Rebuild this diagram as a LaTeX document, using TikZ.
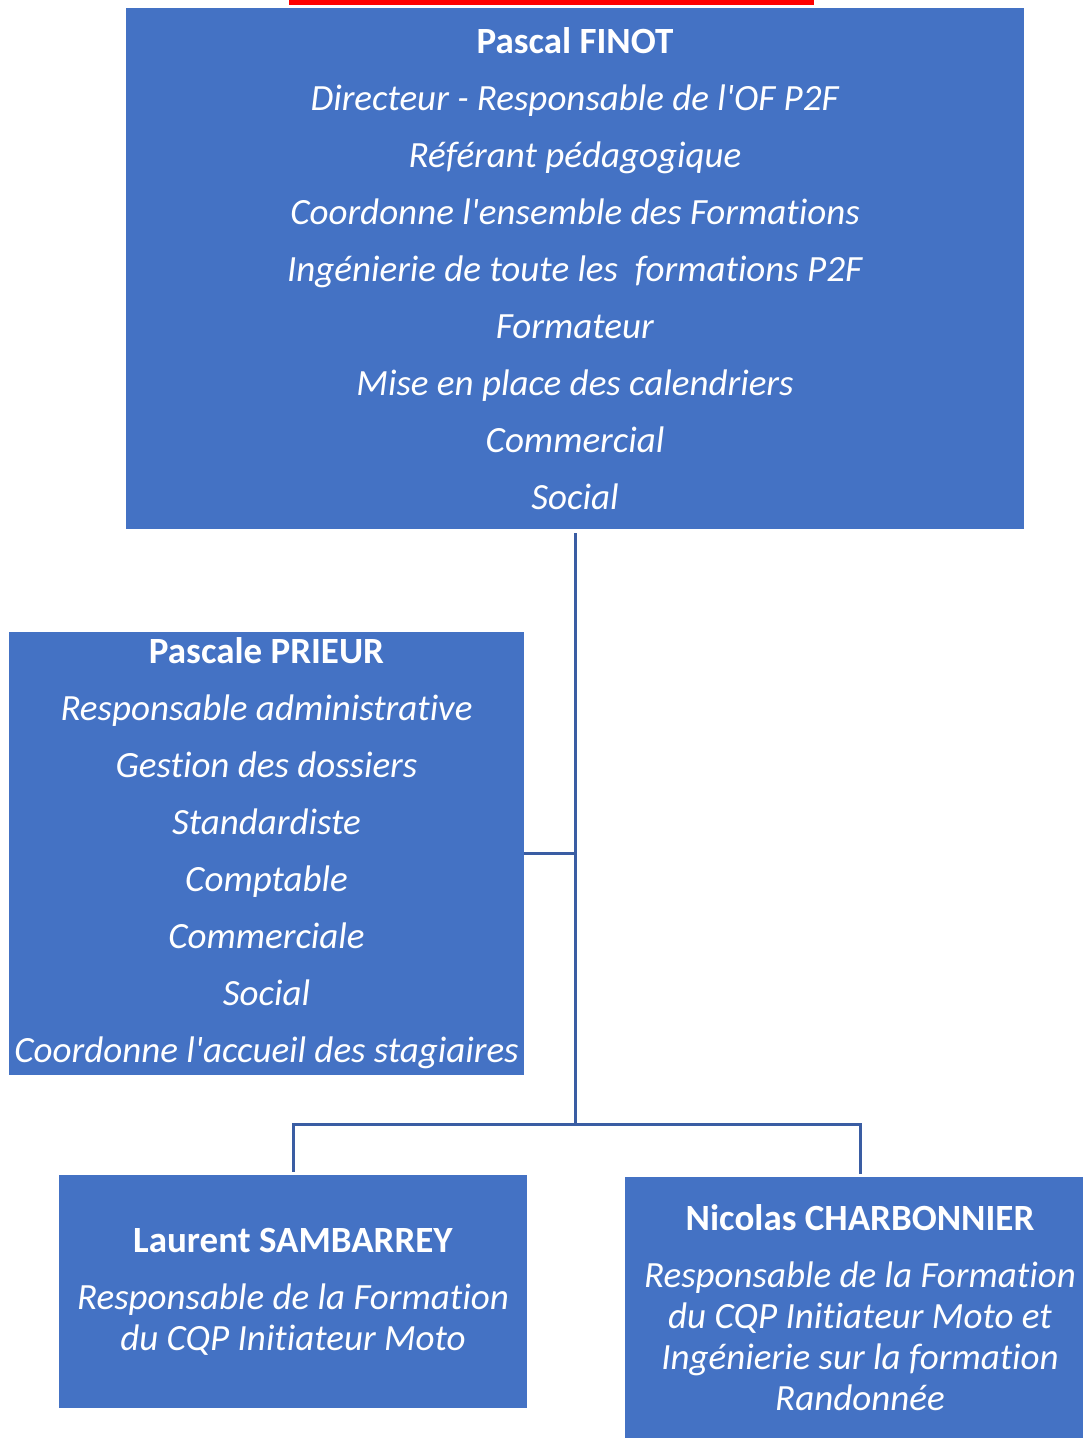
\documentclass[tikz,border=0pt]{standalone}
\usepackage{fontspec}
\newfontfamily\cfont{Carlito}[Ligatures=NoCommon]
\definecolor{boxblue}{HTML}{4472C4}
\definecolor{lineblue}{HTML}{3A5DA3}
\definecolor{topred}{HTML}{FF0000}
\begin{document}
\begin{tikzpicture}[x=1pt,y=-1pt,
  orgbox/.style={rectangle, fill=boxblue, draw=none, inner sep=0pt, text=white, align=center,
    font=\cfont\fontsize{37}{57}\selectfont},
  smallbox/.style={orgbox, font=\cfont\fontsize{37}{41}\selectfont},
  conn/.style={draw=lineblue, line width=3pt}]
\useasboundingbox (0,0) rectangle (1083,1438);
\fill[topred] (289,0) rectangle (814,5);

\node[orgbox, minimum width=898, minimum height=521] (finot) at (575,268.5)
 {\textbf{Pascal FINOT}\\
  \textit{Directeur - Responsable de l'OF P2F}\\
  \textit{Référant pédagogique}\\
  \textit{Coordonne l'ensemble des Formations}\\
  \textit{Ingénierie de toute les~ formations P2F}\\
  \textit{Formateur}\\
  \textit{Mise en place des calendriers}\\
  \textit{Commercial}\\
  \textit{Social}};

\node[orgbox, minimum width=515, minimum height=443] (prieur) at (266.5,853.5)
 {\textbf{Pascale PRIEUR}\\
  \textit{Responsable administrative}\\
  \textit{Gestion des dossiers}\\
  \textit{Standardiste}\\
  \textit{Comptable}\\
  \textit{Commerciale}\\
  \textit{Social}\\
  \textit{Coordonne l'accueil des stagiaires}};

\node[smallbox, minimum width=468, minimum height=233] (sambarrey) at (293,1291.5)
 {\textbf{Laurent SAMBARREY}\\[16pt]
  \textit{Responsable de la Formation}\\
  \textit{du CQP Initiateur Moto}};

\node[smallbox, minimum width=470, minimum height=261] (charbonnier) at (860,1307.5)
 {\textbf{Nicolas CHARBONNIER}\\[16pt]
  \textit{Responsable de la Formation}\\
  \textit{du CQP Initiateur Moto et}\\
  \textit{Ingénierie sur la formation}\\
  \textit{Randonnée}};

\coordinate (hub) at (575,1124.5);
\coordinate (pj) at (575,853);
\draw[conn] ([yshift=-4pt]finot.south) -- (hub);
\draw[conn] (prieur.east |- pj) -- (pj);
\draw[conn] (hub) -| ([yshift=3pt]sambarrey.north);
\draw[conn] (hub) -| ([yshift=3pt]charbonnier.north);
\end{tikzpicture}
\end{document}
